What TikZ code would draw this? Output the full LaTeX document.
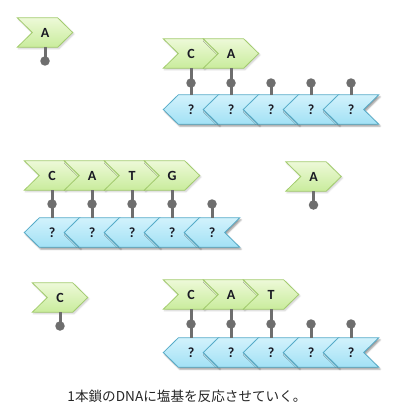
\documentclass[tikz,border=0pt]{standalone}
\usepackage{fontspec}
\newfontfamily\lettfont{Carlito}
\newfontfamily\jpfont{Noto Sans CJK JP}
\usetikzlibrary{backgrounds,shadows.blur}
\definecolor{gtop}{HTML}{EDF9D8}
\definecolor{gbot}{HTML}{C9EC9C}
\definecolor{gline}{HTML}{A3CC6E}
\definecolor{btop}{HTML}{D2F2FC}
\definecolor{bbot}{HTML}{A2E1F5}
\definecolor{bline}{HTML}{55ABC8}
\definecolor{stemc}{HTML}{6E6E6E}
\definecolor{txt}{HTML}{1A1A24}
\definecolor{capc}{HTML}{262626}
\tikzset{
  chev/.style={minimum width=55pt, minimum height=29pt, inner sep=0pt,
    font=\lettfont\bfseries\fontsize{14}{14}\selectfont, text=txt},
  gfill/.style={draw=gline, line width=0.8pt, top color=gtop, bottom color=gbot,
    blur shadow={shadow xshift=1.2pt, shadow yshift=-1.5pt, shadow blur radius=1.5pt, shadow opacity=20}},
  bfill/.style={draw=bline, line width=0.8pt, top color=btop, bottom color=bbot,
    blur shadow={shadow xshift=1.5pt, shadow yshift=-2pt, shadow blur radius=1.5pt, shadow opacity=40}},
  stem/.style={draw=stemc, line width=3pt},
  ball/.style={circle, fill=stemc, minimum size=9.5pt, inner sep=0pt},
}
\newcommand\gshape[1]{\path[gfill] (#1.north west) -- ([xshift=-15pt]#1.north east) -- (#1.east) -- ([xshift=-15pt]#1.south east) -- (#1.south west) -- ([xshift=15pt]#1.west) -- cycle;}
\newcommand\bshape[1]{\path[bfill] (#1.west) -- ([xshift=15pt]#1.north west) -- (#1.north east) -- ([xshift=-15pt]#1.east) -- (#1.south east) -- ([xshift=15pt]#1.south west) -- cycle;}
\begin{document}
\begin{tikzpicture}[x=1pt,y=-1pt]
\useasboundingbox (0,0) rectangle (400,420);
% ---- row 1
\node[chev] (a0) at (45,32.5) {A};
\node[ball] (ka0) at (45,61) {};
\node[chev] (g11) at (191,53.5) {C};
\node[chev] (g12) at (231,53.5) {A};
\foreach \i/\x in {1/191,2/231,3/271,4/311,5/351}{
  \node[chev] (b1\i) at (\x,109.5) {?};
  \node[ball] (k1\i) at (\x,83) {};
}
% ---- row 2
\node[chev] (g21) at (52,175.5) {C};
\node[chev] (g22) at (92,175.5) {A};
\node[chev] (g23) at (132,175.5) {T};
\node[chev] (g24) at (172,175.5) {G};
\foreach \i/\x in {1/52,2/92,3/132,4/172,5/212}{
  \node[chev] (b2\i) at (\x,232.5) {?};
  \node[ball] (k2\i) at (\x,204) {};
}
\node[chev] (a2) at (313.5,176.5) {A};
\node[ball] (ka2) at (313.5,205) {};
% ---- row 3
\node[chev] (c3) at (60,297.5) {C};
\node[ball] (kc3) at (60,326) {};
\node[chev] (g31) at (191,294.5) {C};
\node[chev] (g32) at (231,294.5) {A};
\node[chev] (g33) at (271,294.5) {T};
\foreach \i/\x in {1/191,2/231,3/271,4/311,5/351}{
  \node[chev] (b3\i) at (\x,352.5) {?};
  \node[ball] (k3\i) at (\x,324) {};
}
\node[text=capc, font=\jpfont\fontsize{13.6}{13.6}\selectfont] (cap) at (187,396) {1本鎖のDNAに塩基を反応させていく。};
\begin{scope}[on background layer]
  \gshape{a0}
  \gshape{g11}\gshape{g12}
  \foreach \i in {1,...,5}{\bshape{b1\i}}
  \gshape{g21}\gshape{g22}\gshape{g23}\gshape{g24}
  \foreach \i in {1,...,5}{\bshape{b2\i}}
  \gshape{a2}
  \gshape{c3}
  \gshape{g31}\gshape{g32}\gshape{g33}
  \foreach \i in {1,...,5}{\bshape{b3\i}}
  % stems
  \draw[stem] (a0.south) -- (ka0.center);
  \draw[stem] (a2.south) -- (ka2.center);
  \draw[stem] (c3.south) -- (kc3.center);
  \draw[stem] (g11.south) -- (b11.north);
  \draw[stem] (g12.south) -- (b12.north);
  \foreach \i in {3,4,5}{\draw[stem] (k1\i.center) -- (b1\i.north);}
  \draw[stem] (g21.south) -- (b21.north);
  \draw[stem] (g22.south) -- (b22.north);
  \draw[stem] (g23.south) -- (b23.north);
  \draw[stem] (g24.south) -- (b24.north);
  \draw[stem] (k25.center) -- (b25.north);
  \draw[stem] (g31.south) -- (b31.north);
  \draw[stem] (g32.south) -- (b32.north);
  \draw[stem] (g33.south) -- (b33.north);
  \foreach \i in {4,5}{\draw[stem] (k3\i.center) -- (b3\i.north);}
\end{scope}
\end{tikzpicture}
\end{document}
